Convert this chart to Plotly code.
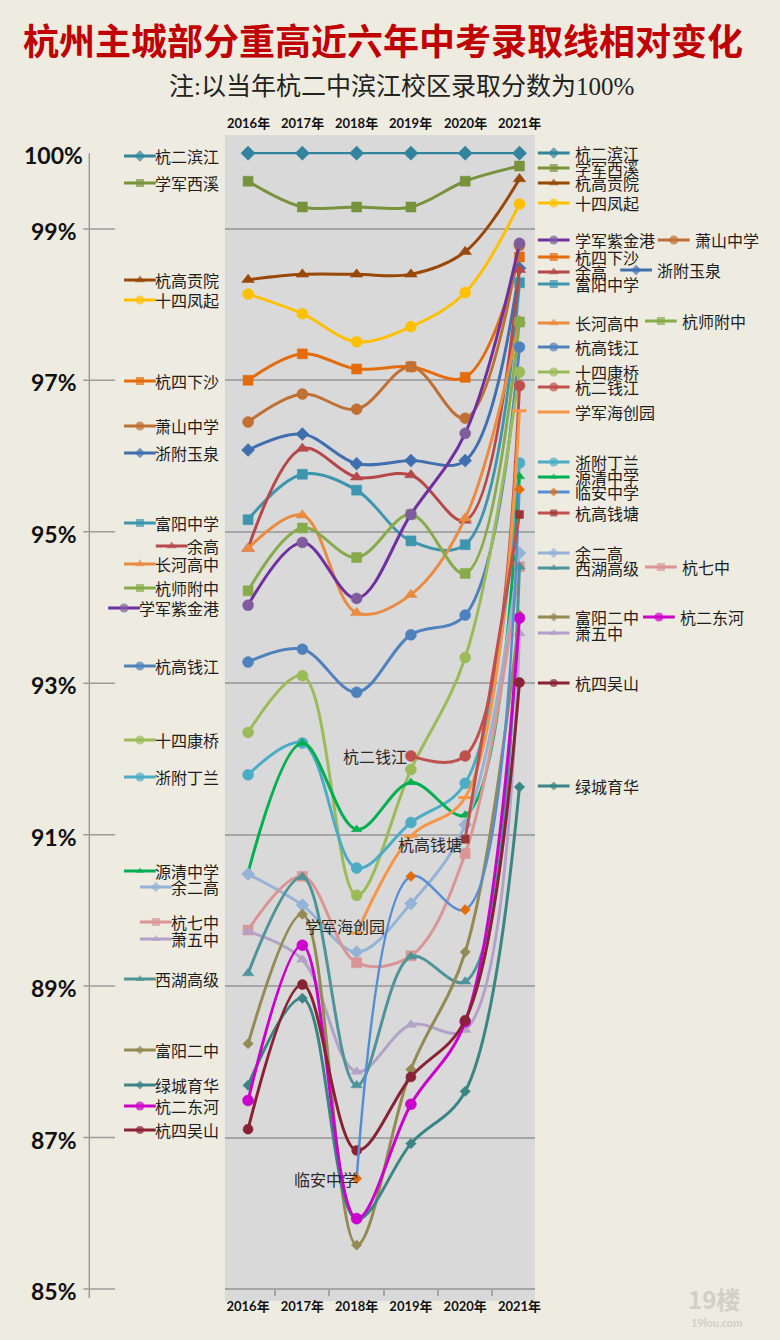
import plotly.graph_objects as go

W, H = 780, 1340

# ---------------- data ----------------
years = ["2016年", "2017年", "2018年", "2019年", "2020年", "2021年"]
y_tick_vals = [85, 87, 89, 91, 93, 95, 97, 99, 100]
y_tick_text = ["85%", "87%", "89%", "91%", "93%", "95%", "97%", "99%", "100%"]

hang2_binjiang = [100, 100, 100, 100, 100, 100]
xuejun_xixi = [99.63, 99.29, 99.29, 99.29, 99.63, 99.83]
hanggao_gongyuan = [98.33, 98.40, 98.40, 98.40, 98.70, 99.66]
shisi_fengqi = [98.14, 97.88, 97.51, 97.71, 98.16, 99.33]
hang4_xiasha = [97.00, 97.35, 97.15, 97.18, 97.04, 98.63]
xiaoshan_zhongxue = [96.45, 96.82, 96.62, 97.18, 96.50, 98.78]
zhefu_yuquan = [96.08, 96.29, 95.90, 95.94, 95.94, 98.48]
fuyang_zhongxue = [95.16, 95.76, 95.55, 94.88, 94.83, 98.29]
yugao = [94.78, 96.10, 95.72, 95.75, 95.15, 98.46]
changhe_gaozhong = [94.78, 95.22, 93.93, 94.17, 95.18, 97.79]
hangshi_fuzhong = [94.22, 95.05, 94.66, 95.23, 94.45, 97.77]
xuejun_zijingang = [94.03, 94.86, 94.12, 95.23, 96.30, 98.81]
hanggao_qianjiang = [93.28, 93.45, 92.88, 93.64, 93.90, 97.44]
shisi_kangqiao = [92.35, 93.10, 90.20, 91.86, 93.34, 97.11]
zhefu_dinglan = [91.79, 92.21, 90.56, 91.16, 91.68, 95.91]
yuanqing_zhongxue = [90.50, 92.21, 91.07, 91.69, 91.26, 95.73]
yu2gao = [90.48, 90.07, 89.45, 90.09, 91.13, 94.72]
hang7zhong = [89.74, 90.45, 89.31, 89.40, 90.75, 94.54]
xiao5zhong = [89.72, 89.35, 87.87, 88.49, 88.42, 93.66]
xihu_gaoji = [89.17, 90.44, 87.69, 89.39, 89.06, 94.54]
fuyang_erzhong = [88.24, 89.95, 85.58, 87.90, 89.45, 93.90]
lvcheng_yuhua = [87.69, 88.84, 85.92, 86.92, 87.61, 91.63]
hang2_donghe = [87.49, 89.54, 85.93, 87.44, 88.53, 93.86]
hang4_wushan = [87.11, 89.02, 86.83, 87.80, 88.55, 93.01]
hang2_qianjiang = [None, None, None, 92.04, 92.04, 96.93]
xuejun_haichuangyuan = [None, None, 89.70, 90.98, 91.49, 96.60]
linan_zhongxue = [None, None, 86.46, 90.45, 90.01, 95.56]
hanggao_qiantang = [None, None, None, None, 90.94, 95.23]

series = [
    ("杭二滨江", hang2_binjiang),
    ("学军西溪", xuejun_xixi),
    ("杭高贡院", hanggao_gongyuan),
    ("十四凤起", shisi_fengqi),
    ("杭四下沙", hang4_xiasha),
    ("萧山中学", xiaoshan_zhongxue),
    ("浙附玉泉", zhefu_yuquan),
    ("富阳中学", fuyang_zhongxue),
    ("余高", yugao),
    ("长河高中", changhe_gaozhong),
    ("杭师附中", hangshi_fuzhong),
    ("学军紫金港", xuejun_zijingang),
    ("杭高钱江", hanggao_qianjiang),
    ("十四康桥", shisi_kangqiao),
    ("浙附丁兰", zhefu_dinglan),
    ("源清中学", yuanqing_zhongxue),
    ("余二高", yu2gao),
    ("杭七中", hang7zhong),
    ("萧五中", xiao5zhong),
    ("西湖高级", xihu_gaoji),
    ("富阳二中", fuyang_erzhong),
    ("绿城育华", lvcheng_yuhua),
    ("杭二东河", hang2_donghe),
    ("杭四吴山", hang4_wushan),
    ("杭二钱江", hang2_qianjiang),
    ("学军海创园", xuejun_haichuangyuan),
    ("临安中学", linan_zhongxue),
    ("杭高钱塘", hanggao_qiantang),
]

# ---------------- styles ----------------
# name: (line color, symbol, marker color, marker size, line width)
styles = {
    "杭二滨江": ("#31849B", "diamond", "#31849B", 11, 2.2),
    "学军西溪": ("#77933C", "square", "#77933C", 10, 3),
    "杭高贡院": ("#984807", "triangle-up", "#984807", 11, 3),
    "十四凤起": ("#FFC000", "circle", "#FFC000", 11, 3),
    "杭四下沙": ("#E46C0A", "square", "#E46C0A", 10, 3),
    "萧山中学": ("#BF7032", "circle", "#BF7032", 11, 3),
    "浙附玉泉": ("#3F6FAE", "diamond", "#3F6FAE", 10, 3),
    "富阳中学": ("#3D96AE", "square", "#3D96AE", 10, 3),
    "余高": ("#B7484A", "triangle-up", "#B7484A", 11, 3),
    "长河高中": ("#E98B41", "triangle-up", "#E98B41", 11, 3),
    "杭师附中": ("#87AB4A", "square", "#87AB4A", 10, 3),
    "学军紫金港": ("#7030A0", "circle", "#7E5C9E", 11, 3),
    "杭高钱江": ("#4F81BD", "circle", "#4F81BD", 11, 3),
    "十四康桥": ("#9BBB59", "circle", "#9BBB59", 11, 3),
    "浙附丁兰": ("#4BACC6", "circle", "#4BACC6", 11, 3),
    "源清中学": ("#00B050", "triangle-up", "#00B050", 9, 3),
    "余二高": ("#95B3D7", "diamond", "#95B3D7", 10, 3),
    "杭七中": ("#D99694", "square", "#D99694", 10, 3),
    "萧五中": ("#B3A2C7", "triangle-up", "#B3A2C7", 10, 3),
    "西湖高级": ("#4E9499", "triangle-up", "#4E9499", 10, 3),
    "富阳二中": ("#948A54", "diamond", "#948A54", 8, 3),
    "绿城育华": ("#3B8585", "diamond", "#3B8585", 8, 3),
    "杭二东河": ("#CC00CC", "circle", "#CC00CC", 11, 3),
    "杭四吴山": ("#8A2236", "circle", "#8A2236", 10, 3),
    "杭二钱江": ("#C0504D", "circle", "#C0504D", 11, 3),
    "学军海创园": ("#F79646", "line-ew", "#F79646", 10, 3),
    "临安中学": ("#558ED5", "diamond", "#E46C0A", 8, 2.5),
    "杭高钱塘": ("#C0504D", "square", "#953735", 8, 3),
}

# label layout (pixel positions)
left_labels = [
    ("杭二滨江", 156), ("学军西溪", 183), ("杭高贡院", 280), ("十四凤起", 300),
    ("杭四下沙", 381), ("萧山中学", 426), ("浙附玉泉", 453), ("富阳中学", 523),
    ("余高", 546), ("长河高中", 564), ("杭师附中", 588), ("学军紫金港", 608),
    ("杭高钱江", 666), ("十四康桥", 740), ("浙附丁兰", 777), ("源清中学", 871),
    ("余二高", 887), ("杭七中", 922), ("萧五中", 939), ("西湖高级", 979),
    ("富阳二中", 1050), ("绿城育华", 1085), ("杭二东河", 1106), ("杭四吴山", 1130),
]
right_labels = [
    ("杭二滨江", 542, 153), ("学军西溪", 542, 168), ("杭高贡院", 542, 183),
    ("十四凤起", 542, 203), ("学军紫金港", 542, 240), ("萧山中学", 663, 240),
    ("杭四下沙", 542, 257), ("余高", 542, 272), ("浙附玉泉", 625, 270),
    ("富阳中学", 542, 284), ("长河高中", 542, 323), ("杭师附中", 650, 321),
    ("杭高钱江", 542, 347), ("十四康桥", 542, 372), ("杭二钱江", 542, 387),
    ("学军海创园", 542, 412), ("浙附丁兰", 542, 462), ("源清中学", 542, 477),
    ("临安中学", 542, 492), ("杭高钱塘", 542, 513), ("余二高", 542, 553),
    ("西湖高级", 542, 568), ("杭七中", 650, 567), ("富阳二中", 542, 617),
    ("杭二东河", 648, 617), ("萧五中", 542, 633), ("杭四吴山", 542, 683),
    ("绿城育华", 542, 786),
]
mid_labels = [("杭二钱江", 412, 756), ("杭高钱塘", 468, 844),
              ("学军海创园", 390, 926), ("临安中学", 363, 1179)]

BG = "#EEEBE1"
PLOT_BG = "#D9D9D9"
GRID = "#A6A6A6"
CJK = "Noto Sans CJK SC"
LABEL_SIZE = 16

# plot area in pixels
PX_L, PX_R, PX_T, PX_B = 226.5, 539, 135, 1301
X0_PX, DX_PX = 250, 54.7
Y85_PX, PX_PER_PCT = 1289, 75.72

x_range = [(PX_L - X0_PX) / DX_PX, (PX_R - X0_PX) / DX_PX]
y_range = [85 - (PX_B - Y85_PX) / PX_PER_PCT, 85 + (Y85_PX - PX_T) / PX_PER_PCT]


def px(xp):
    return xp / W


def py(yp):
    return 1 - yp / H


fig = go.Figure()

xs = list(range(len(years)))
for name, vals in series:
    lc, sym, mc, ms, lw = styles[name]
    if sym == "line-ew":
        marker = dict(symbol=sym, size=ms, color=mc, line=dict(color=mc, width=3))
    else:
        marker = dict(symbol=sym, size=ms, color=mc, line=dict(color=mc, width=0.5))
    fig.add_trace(go.Scatter(
        x=xs, y=vals, mode="lines+markers", name=name,
        line=dict(color=lc, width=lw, shape="spline", smoothing=1.0),
        marker=marker, connectgaps=False, hoverinfo="skip",
        xaxis="x", yaxis="y",
    ))


def add_sample(x_start, y_px, name):
    lc, sym, mc, ms, lw = styles[name]
    xs_s = [x_start, x_start + 16, x_start + 32]
    if sym == "line-ew":
        fig.add_trace(go.Scatter(x=[xs_s[0], xs_s[2]], y=[y_px, y_px], mode="lines",
                                 line=dict(color=lc, width=3), hoverinfo="skip",
                                 xaxis="x2", yaxis="y2"))
        return
    size = max(ms - 2, 7)
    fig.add_trace(go.Scatter(
        x=xs_s, y=[y_px] * 3, mode="lines+markers",
        line=dict(color=lc, width=3),
        marker=dict(symbol=sym, size=[0, size, 0], color=mc, line=dict(width=0)),
        hoverinfo="skip", xaxis="x2", yaxis="y2"))


annotations = []

# left labels: right-aligned at x=223
for name, yp in left_labels:
    text_left = 223 - LABEL_SIZE * len(name)
    add_sample(text_left - 34, yp, name)
    annotations.append(dict(x=px(223), y=py(yp), xref="paper", yref="paper",
                            text=name, showarrow=False, xanchor="right", yanchor="middle",
                            font=dict(family=CJK, size=LABEL_SIZE, color="#1E1E1E")))

# right labels
for name, x0, yp in right_labels:
    add_sample(x0, yp, name)
    annotations.append(dict(x=px(x0 + 35), y=py(yp), xref="paper", yref="paper",
                            text=name, showarrow=False, xanchor="left", yanchor="middle",
                            font=dict(family=CJK, size=LABEL_SIZE, color="#1E1E1E")))

# mid labels
for name, xr, yp in mid_labels:
    annotations.append(dict(x=px(xr), y=py(yp), xref="paper", yref="paper",
                            text=name, showarrow=False, xanchor="right", yanchor="middle",
                            font=dict(family=CJK, size=LABEL_SIZE, color="#2A2A2A")))

# y labels (centered at x=54)
for v, t in zip(y_tick_vals, y_tick_text):
    annotations.append(dict(x=px(54), y=v, xref="paper", yref="y", text=t,
                            showarrow=False, xanchor="center", yanchor="middle", yshift=-2,
                            font=dict(family="Lato, Open Sans", size=23, color="#111111",
                                      weight="bold")))

# top year labels
for i, yr in enumerate(years):
    annotations.append(dict(x=i, y=py(123), xref="x", yref="paper", text=yr,
                            showarrow=False, xanchor="center", yanchor="middle",
                            font=dict(family="Lato, " + CJK, size=13, color="#111111",
                                      weight="bold")))

# title & subtitle
annotations.append(dict(x=0.495, y=py(39), xref="paper", yref="paper",
                        text="杭州主城部分重高近六年中考录取线相对变化", showarrow=False,
                        xanchor="center", yanchor="middle",
                        font=dict(family=CJK, size=36, color="#C00000", weight="bold")))
annotations.append(dict(x=px(405), y=py(87), xref="paper", yref="paper",
                        text="注:以当年杭二中滨江校区录取分数为100%", showarrow=False,
                        xanchor="center", yanchor="middle",
                        font=dict(family="Liberation Serif, " + CJK, size=25, color="#222222")))

# watermark
annotations.append(dict(x=px(720), y=py(1298), xref="paper", yref="paper", text="19楼",
                        showarrow=False, xanchor="center", yanchor="middle",
                        font=dict(family=CJK, size=24, color="#D2CFC6", weight="bold")))
annotations.append(dict(x=px(722), y=py(1322), xref="paper", yref="paper", text="19lou.com",
                        showarrow=False, xanchor="center", yanchor="middle",
                        font=dict(family="Lato", size=11, color="#D2CFC6", weight="bold")))

shapes = []
# plot background
shapes.append(dict(type="rect", xref="paper", yref="paper", x0=px(PX_L), x1=px(PX_R),
                   y0=py(PX_B), y1=py(PX_T), fillcolor=PLOT_BG, line=dict(width=0),
                   layer="below"))
# y axis line and cross ticks
shapes.append(dict(type="line", xref="paper", yref="y", x0=px(90), x1=px(90),
                   y0=84.88, y1=100, line=dict(color="#9C9C9C", width=1.5)))
for v in y_tick_vals[:-1]:
    shapes.append(dict(type="line", xref="paper", yref="y", x0=px(84), x1=px(116),
                       y0=v, y1=v, line=dict(color="#9C9C9C", width=1.5)))

fig.update_layout(
    width=W, height=H,
    margin=dict(l=0, r=0, t=0, b=0),
    paper_bgcolor=BG, plot_bgcolor="rgba(0,0,0,0)",
    showlegend=False, hovermode=False,
    xaxis=dict(domain=[px(PX_L), px(PX_R)], range=x_range, anchor="free",
               position=py(Y85_PX),
               tickmode="array", tickvals=xs, ticktext=years, ticks="",
               ticklabelstandoff=6,
               tickfont=dict(family="Lato, " + CJK, size=13, color="#111111", weight="bold"),
               showline=True, linecolor=GRID, linewidth=1.5,
               showgrid=False, zeroline=False,
               minor=dict(tickvals=[0.5, 1.5, 2.5, 3.5, 4.5], ticks="outside", ticklen=6,
                          tickcolor=GRID, tickwidth=1.5, showgrid=False)),
    yaxis=dict(domain=[py(PX_B), py(PX_T)], range=y_range, anchor="x",
               tickmode="array", tickvals=y_tick_vals[:-1], showticklabels=False,
               ticks="", showline=False, showgrid=True, gridcolor=GRID, gridwidth=1.5,
               zeroline=False),
    xaxis2=dict(domain=[0, 1], range=[0, W], visible=False, anchor="y2"),
    yaxis2=dict(domain=[0, 1], range=[H, 0], visible=False, anchor="x2"),
    annotations=annotations,
    shapes=shapes,
)

fig.write_html("out.html", config={"displayModeBar": False},
               post_script="document.body.style.margin='0';document.body.style.overflow='hidden';")
